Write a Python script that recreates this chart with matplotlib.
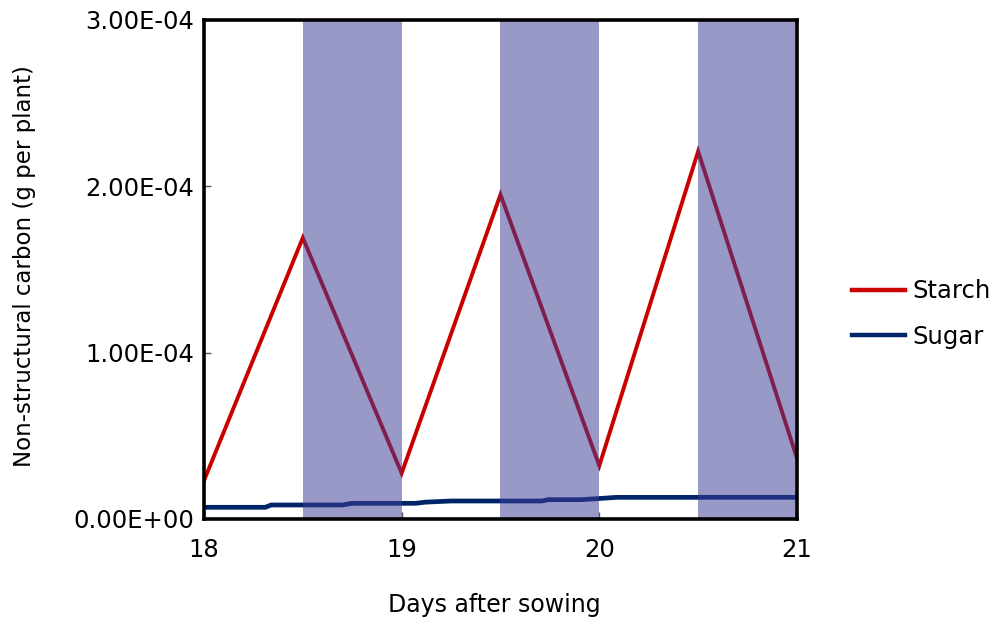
import matplotlib
matplotlib.use("Agg")
import matplotlib.pyplot as plt
from matplotlib.lines import Line2D

plt.rcParams['font.family'] = ['DejaVu Sans']

# Data
starch_days = [18.0, 18.5, 19.0, 19.5, 20.0, 20.5, 21.0]
starch_vals = [2.3e-5, 1.69e-4, 2.75e-5, 1.95e-4, 3.2e-5, 2.21e-4, 3.65e-5]

sugar_days = [18.0, 18.31, 18.34, 18.70, 18.75, 19.07, 19.12, 19.25, 19.71, 19.74, 19.91, 20.09, 20.13, 21.0]
sugar_vals = [7.0e-6, 7.0e-6, 8.4e-6, 8.4e-6, 9.4e-6, 9.4e-6, 10.1e-6, 10.8e-6, 10.8e-6,
              11.6e-6, 11.6e-6, 13.0e-6, 13.0e-6, 13.0e-6]

dark_periods = [(18.5, 19.0), (19.5, 20.0), (20.5, 21.0)]
x_ticks = [18, 19, 20, 21]
y_ticks = [0, 1e-4, 2e-4, 3e-4]
y_tick_labels = ["0.00E+00", "1.00E-04", "2.00E-04", "3.00E-04"]

FS = 17.5

fig = plt.figure(figsize=(9.93, 6.23), dpi=100)
ax = fig.add_axes([0.2054, 0.167, 0.5972, 0.801])

ax.plot(starch_days, starch_vals, color='#c80000', lw=2.8, zorder=2, solid_joinstyle='miter')
ax.plot(sugar_days, sugar_vals, color='#002468', lw=3.4, zorder=2)

for a, b in dark_periods:
    ax.axvspan(a, b, color='#3d3d96', alpha=0.525, lw=0, zorder=3)

ax.set_xlim(18, 21)
ax.set_ylim(0, 3e-4)
ax.set_xticks(x_ticks)
ax.set_xticklabels([str(t) for t in x_ticks], fontsize=FS)
ax.set_yticks(y_ticks)
ax.set_yticklabels(y_tick_labels, fontsize=FS)
ax.tick_params(axis='both', direction='in', length=5, width=1, color='#555555')
ax.tick_params(axis='x', pad=14)
ax.tick_params(axis='y', pad=7)

for s in ax.spines.values():
    s.set_linewidth(2.6)
    s.set_color('black')
    s.set_zorder(5)

fig.text(494 / 993, 1 - 605 / 623, "Days after sowing", fontsize=17,
         ha='center', va='center')
fig.text(25 / 993, 1 - 266 / 623, "Non-structural carbon (g per plant)", fontsize=16.5,
         ha='center', va='center', rotation=90)

handles = [Line2D([0], [0], color='#c80000', lw=3.2),
           Line2D([0], [0], color='#002468', lw=3.2)]
fig.legend(handles, ["Starch", "Sugar"], loc='center left',
           bbox_to_anchor=(852 / 993, 1 - 314 / 623), frameon=False, fontsize=FS,
           handlelength=2.2, handletextpad=0.3, labelspacing=0.88,
           borderaxespad=0, borderpad=0)

fig.savefig("out.png", dpi=100)
